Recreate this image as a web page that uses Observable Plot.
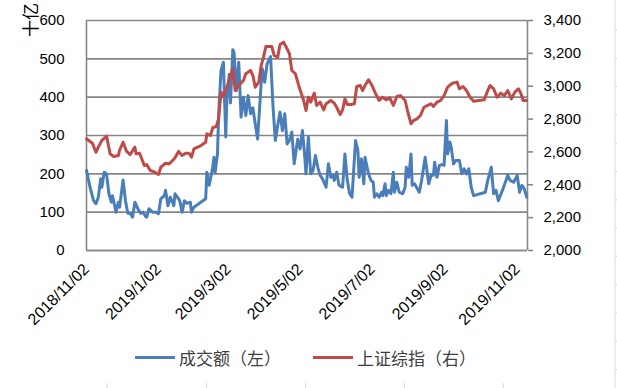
<!DOCTYPE html>
<html><head><meta charset="utf-8">
<script src="https://cdn.jsdelivr.net/npm/d3@7"></script>
<script src="https://cdn.jsdelivr.net/npm/@observablehq/plot@0.6"></script>
<style>
body{margin:0;background:#fff;font-family:"Liberation Sans","Noto Sans CJK SC",sans-serif;}
#wrap{position:relative;width:617px;height:388px;overflow:hidden;background:#fff}
#sheet{position:absolute;left:0;top:0}
#chart{position:absolute;left:0;top:0}
#unit{position:absolute;left:29px;top:20px;transform:translate(-50%,-50%) rotate(-90deg);font-size:17px;color:#000;white-space:nowrap;font-family:"Noto Sans CJK SC",sans-serif;line-height:1}
#legend{position:absolute;left:0;top:345px;width:617px;height:24px;font-family:"Noto Sans CJK SC",sans-serif;font-size:17px;color:#404040}
.item{position:absolute;top:0;height:24px;display:flex;align-items:center;white-space:nowrap}
.swatch{display:inline-block;width:40px;height:3px;margin-right:4px}
</style></head><body>
<div id="wrap">
<svg id="sheet" width="617" height="388"></svg>
<div id="chart"></div>
<div id="unit"></div>
<div id="legend"></div>
</div>
<script>
// ---- data ----
const turnoverDates = ["2018-11-02","2018-11-05","2018-11-08","2018-11-10","2018-11-12","2018-11-14","2018-11-15","2018-11-17","2018-11-19","2018-11-21","2018-11-23","2018-11-24","2018-11-27","2018-11-29","2018-11-30","2018-12-03","2018-12-05","2018-12-07","2018-12-09","2018-12-11","2018-12-13","2018-12-16","2018-12-18","2018-12-20","2018-12-22","2018-12-23","2018-12-25","2018-12-28","2018-12-31","2019-01-02","2019-01-04","2019-01-07","2019-01-08","2019-01-10","2019-01-12","2019-01-15","2019-01-16","2019-01-18","2019-01-20","2019-01-22","2019-01-24","2019-01-26","2019-01-29","2019-01-30","2019-02-01","2019-02-11","2019-02-12","2019-02-14","2019-02-17","2019-02-18","2019-02-19","2019-02-21","2019-02-22","2019-02-24","2019-02-26","2019-02-28","2019-03-01","2019-03-03","2019-03-04","2019-03-06","2019-03-07","2019-03-09","2019-03-11","2019-03-13","2019-03-15","2019-03-17","2019-03-19","2019-03-21","2019-03-23","2019-03-25","2019-03-27","2019-03-30","2019-03-31","2019-04-02","2019-04-04","2019-04-07","2019-04-09","2019-04-11","2019-04-13","2019-04-15","2019-04-17","2019-04-19","2019-04-21","2019-04-23","2019-04-25","2019-04-27","2019-04-30","2019-05-02","2019-05-04","2019-05-06","2019-05-07","2019-05-09","2019-05-11","2019-05-13","2019-05-15","2019-05-17","2019-05-19","2019-05-21","2019-05-24","2019-05-26","2019-05-28","2019-05-30","2019-05-31","2019-06-02","2019-06-04","2019-06-07","2019-06-09","2019-06-11","2019-06-13","2019-06-15","2019-06-18","2019-06-20","2019-06-21","2019-06-23","2019-06-25","2019-06-26","2019-06-29","2019-07-01","2019-07-03","2019-07-04","2019-07-06","2019-07-08","2019-07-10","2019-07-11","2019-07-13","2019-07-14","2019-07-16","2019-07-18","2019-07-20","2019-07-21","2019-07-23","2019-07-25","2019-07-28","2019-07-30","2019-07-31","2019-08-02","2019-08-04","2019-08-05","2019-08-07","2019-08-11","2019-08-13","2019-08-16","2019-08-19","2019-08-21","2019-08-23","2019-08-24","2019-08-26","2019-08-28","2019-08-30","2019-09-01","2019-09-03","2019-09-04","2019-09-06","2019-09-07","2019-09-09","2019-09-11","2019-09-14","2019-09-16","2019-09-18","2019-09-20","2019-09-22","2019-09-24","2019-09-26","2019-10-06","2019-10-08","2019-10-11","2019-10-13","2019-10-15","2019-10-17","2019-10-21","2019-10-25","2019-10-27","2019-10-30","2019-11-02","2019-11-04","2019-11-06","2019-11-08","2019-11-10"];
const turnoverValues = [209,165,130,122,139,187,165,204,200,148,126,143,100,126,113,184,130,97,97,87,126,106,97,100,89,87,109,100,100,96,135,143,157,117,139,117,148,139,130,100,130,123,126,100,113,135,204,170,217,243,204,252,357,470,491,296,400,460,385,524,517,417,491,348,400,352,404,357,372,330,291,435,474,439,487,506,378,287,326,361,313,357,278,287,309,226,290,265,313,243,200,296,200,209,248,217,196,187,165,226,191,196,183,204,170,165,252,183,148,139,287,261,191,239,174,243,200,183,178,139,148,139,152,143,174,143,157,148,204,152,178,152,148,165,217,191,252,170,174,152,183,243,174,196,196,230,191,222,224,222,339,252,283,270,226,235,235,200,213,200,213,165,143,152,183,217,148,157,130,161,196,183,178,196,152,170,161,139];

const indexDates = ["2018-11-02","2018-11-07","2018-11-10","2018-11-12","2018-11-15","2018-11-19","2018-11-22","2018-11-25","2018-11-29","2018-11-30","2018-12-03","2018-12-06","2018-12-09","2018-12-13","2018-12-14","2018-12-17","2018-12-21","2018-12-23","2018-12-26","2018-12-30","2019-01-02","2019-01-04","2019-01-08","2019-01-11","2019-01-14","2019-01-16","2019-01-19","2019-01-22","2019-01-25","2019-01-28","2019-01-30","2019-02-01","2019-02-07","2019-02-11","2019-02-12","2019-02-15","2019-02-17","2019-02-20","2019-02-22","2019-02-24","2019-02-26","2019-03-01","2019-03-06","2019-03-08","2019-03-11","2019-03-15","2019-03-17","2019-03-21","2019-03-23","2019-03-25","2019-03-28","2019-03-30","2019-04-01","2019-04-03","2019-04-08","2019-04-10","2019-04-13","2019-04-15","2019-04-18","2019-04-21","2019-04-23","2019-04-25","2019-04-28","2019-05-01","2019-05-05","2019-05-07","2019-05-09","2019-05-11","2019-05-14","2019-05-16","2019-05-19","2019-05-22","2019-05-24","2019-05-28","2019-05-31","2019-06-02","2019-06-05","2019-06-07","2019-06-09","2019-06-11","2019-06-14","2019-06-17","2019-06-19","2019-06-22","2019-06-24","2019-06-26","2019-06-29","2019-07-02","2019-07-05","2019-07-08","2019-07-11","2019-07-14","2019-07-17","2019-07-20","2019-07-23","2019-07-26","2019-07-30","2019-08-01","2019-08-04","2019-08-06","2019-08-09","2019-08-12","2019-08-15","2019-08-18","2019-08-21","2019-08-23","2019-08-26","2019-08-29","2019-09-01","2019-09-04","2019-09-08","2019-09-12","2019-09-14","2019-09-17","2019-09-20","2019-09-23","2019-09-26","2019-10-05","2019-10-08","2019-10-10","2019-10-13","2019-10-16","2019-10-19","2019-10-22","2019-10-25","2019-10-28","2019-10-31","2019-11-03","2019-11-05","2019-11-07","2019-11-10"];
const indexValues = [2680,2653,2598,2629,2670,2696,2589,2572,2578,2609,2659,2603,2584,2629,2589,2592,2517,2523,2487,2477,2463,2507,2531,2527,2548,2564,2603,2578,2592,2592,2568,2619,2639,2659,2710,2700,2747,2755,2804,2964,2937,2994,3106,2974,3004,3035,3076,3096,3065,2994,3025,3126,3177,3242,3242,3187,3177,3254,3268,3228,3197,3096,3076,3000,2913,2852,2933,2903,2958,2883,2903,2856,2893,2913,2897,2872,2828,2856,2923,2889,2889,2893,2998,3004,2974,3004,3039,3004,2954,2913,2933,2917,2929,2883,2937,2943,2913,2852,2771,2791,2801,2822,2872,2883,2893,2877,2903,2913,2943,2994,3018,3025,2984,2998,2974,2933,2909,2917,2974,3004,2984,2933,2958,2943,2974,2923,2964,2984,2958,2913,2913];

const leftTicks = [0,100,200,300,400,500,600];
const rightTicks = [2000,2200,2400,2600,2800,3000,3200,3400];
const xTickDates = ["2018-11-02","2019-01-02","2019-03-02","2019-05-02","2019-07-02","2019-09-02","2019-11-02"];
const xTickLabels = ["2018/11/02","2019/1/02","2019/3/02","2019/5/02","2019/7/02","2019/9/02","2019/11/02"];
const seriesNames = ["成交额（左）","上证综指（右）"];
const seriesColors = ["#4A7EBB","#BE4B48"];
const unitLabel = "十亿";

// ---- build ----
const leftDomain = [0, 600], rightDomain = [2000, 3400];
const toLeft = v => (v - rightDomain[0]) / (rightDomain[1] - rightDomain[0]) * (leftDomain[1] - leftDomain[0]) + leftDomain[0];
const fromLeft = v => (v - leftDomain[0]) / (leftDomain[1] - leftDomain[0]) * (rightDomain[1] - rightDomain[0]) + rightDomain[0];

const turnover = turnoverDates.map((d, i) => ({date: new Date(d), value: turnoverValues[i]}));
const index = indexDates.map((d, i) => ({date: new Date(d), value: toLeft(indexValues[i])}));
const xTicks = xTickDates.map(d => new Date(d));
const labelMap = new Map(xTicks.map((d, i) => [+d, xTickLabels[i]]));
const xDomain = [new Date("2018-11-02"), new Date("2019-11-10T17:00Z")];
const gridColor = "#868686";

const chart = Plot.plot({
  width: 617, height: 340,
  marginLeft: 86, marginRight: 90, marginTop: 20, marginBottom: 90,
  style: {fontFamily: '"Liberation Sans","Noto Sans CJK SC",sans-serif', fontSize: "15px", background: "transparent", overflow: "visible", color: "#000"},
  x: {type: "utc", domain: xDomain},
  y: {domain: leftDomain},
  marks: [
    Plot.gridY(leftTicks, {stroke: gridColor, strokeOpacity: 1, strokeWidth: 1.6}),
    Plot.ruleX([xDomain[0]], {stroke: gridColor, strokeWidth: 1.6}),
    Plot.ruleX([xDomain[1]], {stroke: gridColor, strokeWidth: 1.6}),
    Plot.ruleY([leftDomain[0]], {stroke: gridColor, strokeWidth: 1.6}),
    Plot.axisY(leftTicks, {anchor: "left", tickSize: 0, tickPadding: 22, label: null, fontSize: 15, fill: "#000"}),
    Plot.axisY(rightTicks.map(toLeft), {anchor: "right", tickSize: 5, tickPadding: 11, label: null, fontSize: 15,
      stroke: gridColor, strokeWidth: 1.6, fill: "#000",
      tickFormat: v => d3.format(",")(Math.round(fromLeft(v)))}),
    Plot.axisX(xTicks, {anchor: "bottom", tickSize: 0, tickPadding: 16, tickRotate: -45, label: null, fontSize: 16, fill: "#000",
      tickFormat: d => labelMap.get(+d)}),
    Plot.lineY(turnover, {x: "date", y: "value", stroke: seriesColors[0], strokeWidth: 3, strokeLinejoin: "round"}),
    Plot.lineY(index, {x: "date", y: "value", stroke: seriesColors[1], strokeWidth: 3, strokeLinejoin: "round"})
  ]
});
document.getElementById("chart").appendChild(chart);
document.getElementById("unit").textContent = unitLabel;

// legend
const legend = document.getElementById("legend");
const legendX = [135, 313];
seriesNames.forEach((name, i) => {
  const it = document.createElement("div");
  it.className = "item";
  it.style.left = legendX[i] + "px";
  const sw = document.createElement("span");
  sw.className = "swatch";
  sw.style.background = seriesColors[i];
  const tx = document.createElement("span");
  tx.textContent = name;
  it.appendChild(sw); it.appendChild(tx);
  legend.appendChild(it);
});

// worksheet cell borders behind the chart
const sheet = d3.select("#sheet");
sheet.append("line").attr("x1", 615).attr("x2", 615).attr("y1", 0).attr("y2", 388).attr("stroke", "#d9d9d9");
d3.range(13).forEach(k => sheet.append("line").attr("x1", 615).attr("x2", 617).attr("y1", 30 + 28.3 * k).attr("y2", 30 + 28.3 * k).attr("stroke", "#d9d9d9"));
[107, 206.7, 305.7, 404.3, 503.3].forEach(x => sheet.append("line").attr("x1", x).attr("x2", x).attr("y1", 383).attr("y2", 388).attr("stroke", "#d9d9d9"));
</script>
</body></html>
